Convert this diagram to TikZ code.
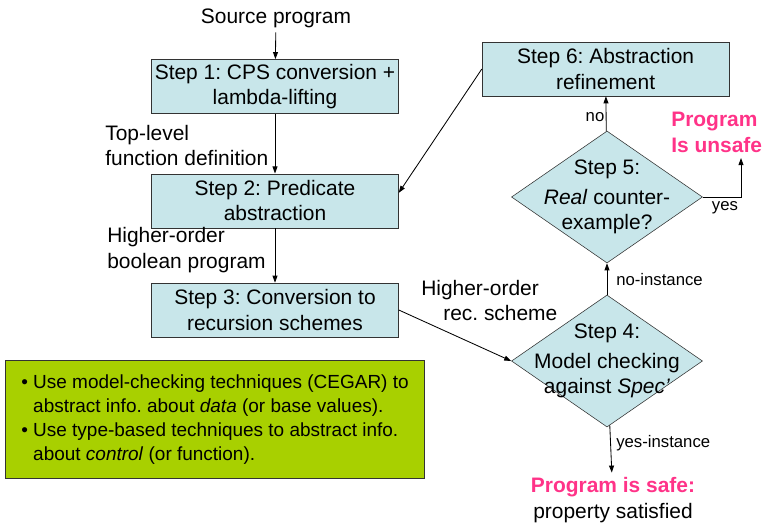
\documentclass[tikz,border=0pt]{standalone}
\usepackage{fontspec}
\setmainfont{Liberation Sans}
\usepackage{xcolor}
\usetikzlibrary{shapes.geometric,positioning,arrows.meta}
\frenchspacing

\definecolor{stepblue}{RGB}{200,230,234}
\definecolor{notegreen}{RGB}{168,208,0}
\definecolor{verdict}{RGB}{255,51,136}

\begin{document}
\begin{tikzpicture}[
  font=\fontsize{14.9}{18}\selectfont,
  stepbox/.style={draw=black!80, fill=stepblue, minimum width=6.175cm,
    minimum height=1.35cm, align=center, inner sep=2pt},
  decision/.style={draw=black!80, fill=stepblue, diamond, minimum width=4.775cm,
    minimum height=3.3cm, inner sep=0pt},
  flow/.style={-{Triangle[length=5pt,width=3.5pt]}, line width=0.6pt},
  tag/.style={inner sep=0pt, font=\fontsize{11.9}{14}\selectfont},
]
\useasboundingbox (0,0) rectangle (19.05,-13.075);

% main pipeline
\node (src) at (6.9,-0.45) {Source program};
\node[stepbox] (s1) at (6.875,-2.16) {Step 1: CPS conversion +\\lambda-lifting};
\node[stepbox] (s2) at (6.875,-5.02) {Step 2: Predicate\\abstraction};
\node[stepbox] (s3) at (6.875,-7.75) {Step 3: Conversion to\\recursion schemes};

\node[align=left, anchor=west, inner sep=0pt] (toplevel) at (2.625,-3.64)
  {Top-level\\function definition};
\node[align=left, anchor=west, inner sep=0pt] (boolprog) at (2.675,-6.25)
  {Higher-order\\boolean program};
\node[align=left, anchor=west, inner sep=0pt] (recsch) at (10.525,-7.51)
  {Higher-order\\\hspace*{0.55cm}rec. scheme};

% checking loop
\node[decision, label={[align=center]center:Step 4:\\[3pt]Model checking\\against \textit{Spec’}}]
  (s4) at (15.175,-9.025) {};
\node[decision, label={[align=center]center:Step 5:\\[3pt]\textit{Real} counter-\\example?}]
  (s5) at (15.175,-4.925) {};
\node[stepbox] (s6) at (15.14,-1.725) {Step 6: Abstraction\\refinement};

\node[align=left, anchor=west, inner sep=0pt, font=\fontsize{14.9}{18}\selectfont\bfseries,
      text=verdict] (unsafe) at (16.775,-3.31) {Program\\Is unsafe};
\node[align=center] (safe) at (15.325,-12.5)
  {\textcolor{verdict}{\bfseries Program is safe:}\\property satisfied};
\coordinate (yesend) at (18.525,-3.95);

\node[tag] (no) at (14.875,-2.925) {no};
\node[tag] (yes) at (18.125,-5.2) {yes};
\node[tag, anchor=west] (noinst) at (15.4,-7.0) {no-instance};
\node[tag, anchor=west] (yesinst) at (15.4,-11.075) {yes-instance};

% note
\node[draw=black!80, fill=notegreen, anchor=north west, minimum width=10.25cm,
      minimum height=2.95cm, align=left, inner xsep=0.4cm,
      font=\fontsize{13.5}{17}\selectfont] (note) at (0.125,-9.0)
  {\textbullet\ Use model-checking techniques (CEGAR) to\\
   \phantom{\textbullet\ }abstract info. about \textit{data} (or base values).\\
   \textbullet\ Use type-based techniques to abstract info.\\
   \phantom{\textbullet\ }about \textit{control} (or function).};

\draw[flow] (src) -- (s1);
\draw[flow] (s1) -- (s2);
\draw[flow] (s2) -- (s3);
\draw[flow] (s3.east) -- (s4.west);
\draw[flow] (s4) -- (s5);
\draw[flow] (s5) -- (s6);
\draw[flow] (s5.east) -| (yesend);
\draw[flow] (s4) -- (safe);
\draw[flow] (s6.west) -- ([yshift=0.2cm]s2.east);

\end{tikzpicture}
\end{document}
